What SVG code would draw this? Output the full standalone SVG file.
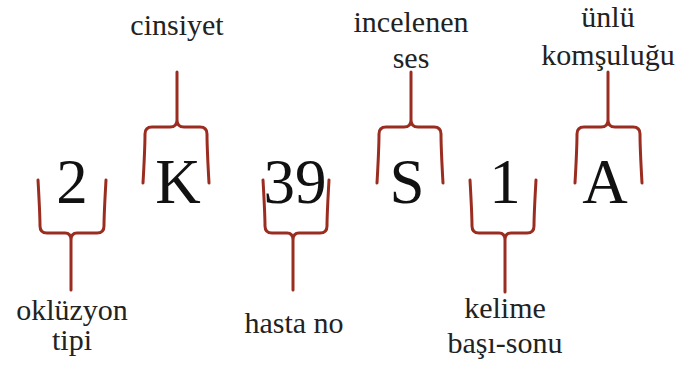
<svg xmlns="http://www.w3.org/2000/svg" width="683" height="367" viewBox="0 0 683 367">
<style>
.big{font-family:"Liberation Serif","DejaVu Serif",serif;font-size:63px;fill:#111;text-anchor:middle}
.lbl{font-family:"Liberation Serif","DejaVu Serif",serif;font-size:30px;fill:#222;text-anchor:middle}
.br{fill:none;stroke:#9b2d20;stroke-width:3;stroke-linecap:round;stroke-linejoin:round}
</style>
<rect width="683" height="367" fill="#fff"/>
<g id="connectors">
<path class="br" d="M38 180 Q40 215 40 226 Q40 233 47 233 H65 Q71 233 71 240 V290 M106 180 Q104 215 104 226 Q104 233 97 233 H77 Q71 233 71 240"/>
<path class="br" d="M143 183 Q145 148 145 134 Q145 127 152 127 H170 Q177 127 177 120 V72 M209 183 Q207 148 207 134 Q207 127 200 127 H184 Q177 127 177 120"/>
<path class="br" d="M263 180 Q265 215 265 226 Q265 233 272 233 H287 Q293 233 293 240 V290 M329 180 Q327 215 327 226 Q327 233 320 233 H299 Q293 233 293 240"/>
<path class="br" d="M377 183 Q379 148 379 134 Q379 127 386 127 H404 Q411 127 411 120 V72 M443 183 Q441 148 441 134 Q441 127 434 127 H418 Q411 127 411 120"/>
<path class="br" d="M470 180 Q472 215 472 226 Q472 233 479 233 H499 Q505 233 505 240 V292 M536 180 Q534 215 534 226 Q534 233 527 233 H511 Q505 233 505 240"/>
<path class="br" d="M575 183 Q577 148 577 134 Q577 127 584 127 H601 Q608 127 608 120 V72 M642 183 Q640 148 640 134 Q640 127 633 127 H615 Q608 127 608 120"/>
</g>
<g id="n2"><text class="big" x="72" y="203">2</text></g>
<g id="nK"><text class="big" x="178" y="203">K</text></g>
<g id="n39"><text class="big" x="295" y="203">39</text></g>
<g id="nS"><text class="big" x="407" y="203">S</text></g>
<g id="n1"><text class="big" x="505" y="203">1</text></g>
<g id="nA"><text class="big" x="605" y="203">A</text></g>
<g id="l-okluzyon"><text class="lbl" x="72" y="320">oklüzyon</text><text class="lbl" x="72" y="350">tipi</text></g>
<g id="l-cinsiyet"><text class="lbl" x="177" y="35">cinsiyet</text></g>
<g id="l-hasta"><text class="lbl" x="294" y="333">hasta no</text></g>
<g id="l-ses"><text class="lbl" x="411" y="32">incelenen</text><text class="lbl" x="411" y="68">ses</text></g>
<g id="l-kelime"><text class="lbl" x="505" y="318">kelime</text><text class="lbl" x="505" y="353">başı-sonu</text></g>
<g id="l-unlu"><text class="lbl" x="608" y="27">ünlü</text><text class="lbl" x="608" y="65">komşuluğu</text></g>
</svg>
